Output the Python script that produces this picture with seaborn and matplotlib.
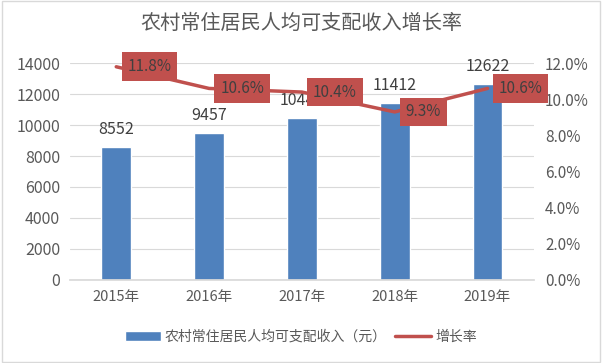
import matplotlib
matplotlib.use("Agg")
import matplotlib.pyplot as plt
import seaborn as sns
import pandas as pd
from matplotlib.ticker import PercentFormatter

years = ["2015年", "2016年", "2017年", "2018年", "2019年"]
income = [8552, 9457, 10441, 11412, 12622]
growth = [11.8, 10.6, 10.4, 9.3, 10.6]

sns.set_theme(style="white")
plt.rcParams["font.family"] = ["Noto Sans CJK SC", "DejaVu Sans"]

df = pd.DataFrame({"year": years, "income": income, "growth": growth})

bar_c = "#4F81BD"
line_c = "#C0504D"
txt_c = "#595959"

fig = plt.figure(figsize=(6.02, 3.63), dpi=100)
ax = fig.add_axes([0.116, 0.229, 0.771, 0.597])

sns.barplot(data=df, x="year", y="income", color=bar_c, width=0.32,
            saturation=1, ax=ax, label="农村常住居民人均可支配收入（元）")
ax.get_legend().remove()
ax.set_ylim(0, 14000)
ax.set_yticks(range(0, 14001, 2000))
ax.set_xlim(-0.5, 4.5)
ax.grid(axis="y", color="#D9D9D9", lw=0.8)
ax.set_axisbelow(True)
ax.set_xlabel("")
ax.set_ylabel("")
for s in ["top", "right", "left"]:
    ax.spines[s].set_visible(False)
ax.spines["bottom"].set_color("#D9D9D9")
ax.tick_params(axis="y", colors=txt_c, labelsize=11.5, length=0, pad=7)
ax.tick_params(axis="x", colors=txt_c, labelsize=10.5, length=0, pad=7)

# bar value labels (the 2017 one sits partly under the growth-rate box, as in the original)
for i, v in enumerate(income):
    ax.annotate(str(v), (i, v), xytext=(0, 7), textcoords="offset points",
                ha="center", va="bottom", fontsize=11.5, color="#404040", zorder=2)

ax2 = ax.twinx()
sns.lineplot(x=list(range(len(years))), y=growth, color=line_c, lw=2.5,
             ax=ax2, label="增长率", zorder=3)
ax2.set_ylim(0, 12)
ax2.set_yticks(range(0, 13, 2))
ax2.yaxis.set_major_formatter(PercentFormatter(decimals=1))
ax2.set_xlim(-0.5, 4.5)
for s in ["top", "right", "left", "bottom"]:
    ax2.spines[s].set_visible(False)
ax2.tick_params(axis="y", colors=txt_c, labelsize=11, length=0, pad=8)
ax2.set_ylabel("")

for i, g in enumerate(growth):
    ax2.annotate(f"{g}%", (i, g), xytext=(8, 0), textcoords="offset points",
                 ha="left", va="center", fontsize=11, color="#404040", zorder=5,
                 bbox=dict(boxstyle="square,pad=0.38", fc=line_c, ec="none"))

ax2.get_legend().remove()
h1, l1 = ax.get_legend_handles_labels()
h2, l2 = ax2.get_legend_handles_labels()
fig.legend(h1 + h2, l1 + l2, loc="center", bbox_to_anchor=(0.5, 0.072), ncol=2,
           frameon=False, fontsize=10, labelcolor=txt_c, handlelength=2.6,
           columnspacing=0.6, handletextpad=0.3)

fig.suptitle("农村常住居民人均可支配收入增长率", y=0.965, fontsize=14.5, color=txt_c)
fig.patches.append(plt.Rectangle((0.003, 0.003), 0.994, 0.994, transform=fig.transFigure,
                                 fill=False, ec="#D9D9D9", lw=1))

fig.savefig("out.png", dpi=100)
